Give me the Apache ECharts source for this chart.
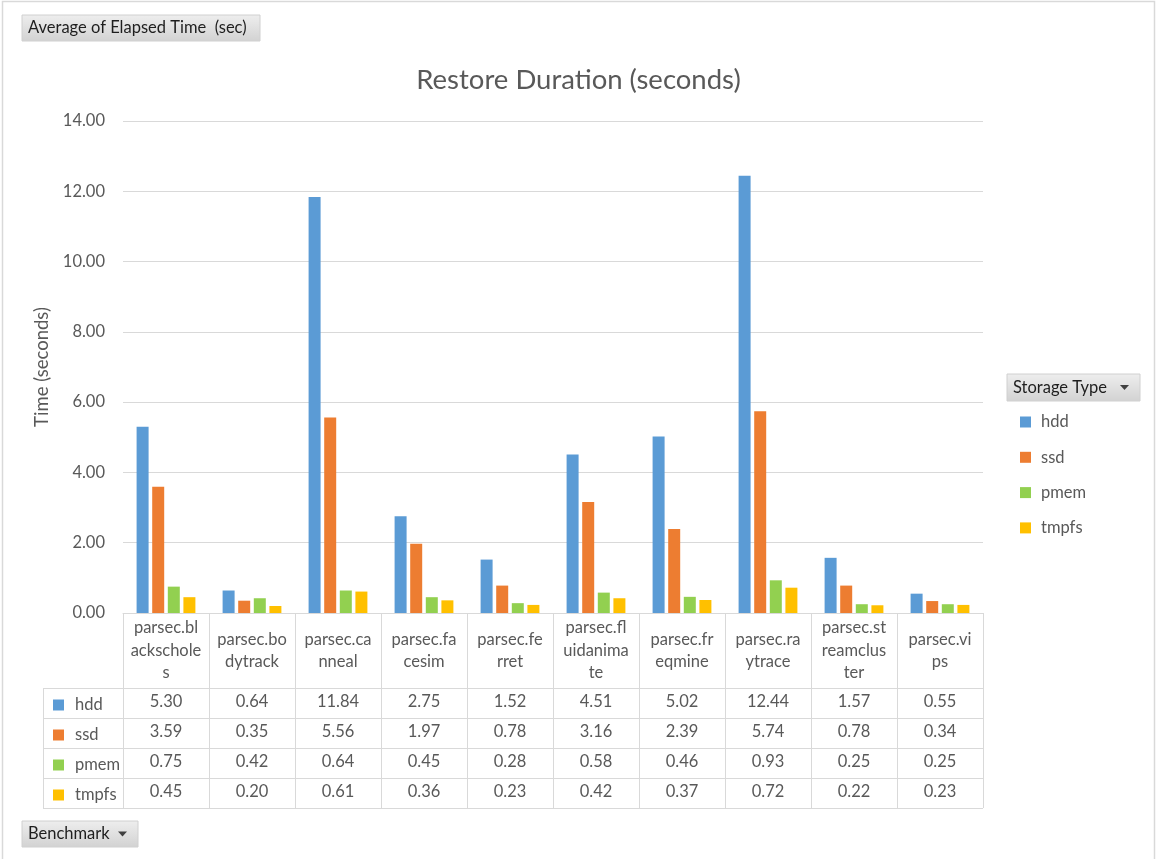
<!DOCTYPE html>
<html>
<head>
<meta charset="utf-8">
<title>Restore Duration (seconds)</title>
<script src="https://cdn.jsdelivr.net/npm/echarts@6/dist/echarts.min.js"></script>
<style>
  html, body { margin: 0; padding: 0; background: #ffffff; }
  #chart { width: 1157px; height: 859px; }
</style>
</head>
<body>
<div id="chart"></div>
<script>
// Benchmarks on the category axis, and their wrapped header text in the data table
const benchmarks = [
  'parsec.blackscholes', 'parsec.bodytrack', 'parsec.canneal', 'parsec.facesim',
  'parsec.ferret', 'parsec.fluidanimate', 'parsec.freqmine', 'parsec.raytrace',
  'parsec.streamcluster', 'parsec.vips'
];
const benchmarkHeaders = [
  'parsec.bl\nackschole\ns', 'parsec.bo\ndytrack', 'parsec.ca\nnneal', 'parsec.fa\ncesim',
  'parsec.fe\nrret', 'parsec.fl\nuidanima\nte', 'parsec.fr\neqmine', 'parsec.ra\nytrace',
  'parsec.st\nreamclus\nter', 'parsec.vi\nps'
];

// Average elapsed restore time (seconds) per storage type
const storageTypes = ['hdd', 'ssd', 'pmem', 'tmpfs'];
const hdd   = [5.30, 0.64, 11.84, 2.75, 1.52, 4.51, 5.02, 12.44, 1.57, 0.55];
const ssd   = [3.59, 0.35, 5.56, 1.97, 0.78, 3.16, 2.39, 5.74, 0.78, 0.34];
const pmem  = [0.75, 0.42, 0.64, 0.45, 0.28, 0.58, 0.46, 0.93, 0.25, 0.25];
const tmpfs = [0.45, 0.20, 0.61, 0.36, 0.23, 0.42, 0.37, 0.72, 0.22, 0.23];
const seriesValues = [hdd, ssd, pmem, tmpfs];
const seriesColors = ['#5B9BD5', '#ED7D31', '#92D050', '#FFC000'];

// Value axis range
const yMin = 0, yMax = 14, yStep = 2;

// Layout
const FONT = 'Lato, "Open Sans", sans-serif';
const TEXT = '#595959';
const LINE = '#d9d9d9';
const GRID = { left: 123, right: 174, top: 121, bottom: 246 };
const PLOT_RIGHT = 1157 - GRID.right;
const AXIS_Y = 859 - GRID.bottom;          // y of the category axis line
const HEADER_H = 75;                       // data table header row
const ROW_H = 30;                          // data table value rows
const TABLE_LEFT = 43;

const chart = echarts.init(document.getElementById('chart'), null, { renderer: 'canvas' });

// The main category axis draws the bars, the header labels and the table's column rules;
// one extra axis per storage type prints that row of the data table.
const xAxes = [{
  type: 'category',
  data: benchmarks,
  position: 'bottom',
  axisLine: { onZero: false, lineStyle: { color: LINE, width: 1 } },
  axisTick: { show: true, interval: 0, length: HEADER_H + ROW_H * storageTypes.length,
              lineStyle: { color: LINE, width: 1 } },
  axisLabel: {
    interval: 0,
    margin: HEADER_H / 2,
    verticalAlign: 'middle',
    align: 'center',
    lineHeight: 22.5,
    fontFamily: FONT, fontSize: 16.5, color: TEXT,
    formatter: (v, i) => benchmarkHeaders[i]
  }
}];
storageTypes.forEach((name, r) => {
  xAxes.push({
    type: 'category',
    data: benchmarks,
    position: 'bottom',
    offset: HEADER_H + ROW_H * r + ROW_H / 2 - 1,
    axisLine: { show: false, onZero: false },
    axisTick: { show: false },
    splitLine: { show: false },
    axisLabel: {
      interval: 0,
      margin: 0,
      verticalAlign: 'middle',
      align: 'center',
      fontFamily: FONT, fontSize: 16.5, color: TEXT,
      formatter: (v, i) => seriesValues[r][i].toFixed(2)
    }
  });
});

// Table borders that are not part of an axis
const tableRules = [];
for (let r = 0; r <= storageTypes.length; r++) {
  const y = AXIS_Y + HEADER_H + ROW_H * r + 0.5;
  tableRules.push({
    type: 'line', silent: true,
    shape: { x1: TABLE_LEFT, y1: y, x2: PLOT_RIGHT, y2: y },
    style: { stroke: LINE, lineWidth: 1 }
  });
}
tableRules.push({
  type: 'line', silent: true,
  shape: { x1: TABLE_LEFT + 0.5, y1: AXIS_Y + HEADER_H, x2: TABLE_LEFT + 0.5,
           y2: AXIS_Y + HEADER_H + ROW_H * storageTypes.length },
  style: { stroke: LINE, lineWidth: 1 }
});

// Pivot field buttons
const buttonFill = {
  type: 'linear', x: 0, y: 0, x2: 0, y2: 1,
  colorStops: [{ offset: 0, color: '#eeeeee' }, { offset: 1, color: '#d2d2d2' }]
};
function fieldButton(x, y, w, h, label, withArrow) {
  const children = [
    { type: 'rect', shape: { x: 0, y: 0, width: w, height: h },
      style: { fill: buttonFill, stroke: '#d0d0d0', lineWidth: 1 } },
    { type: 'text', x: 6, y: h / 2,
      style: { text: label, fontFamily: FONT, fontSize: 16.5, fill: '#1e1e1e',
               textVerticalAlign: 'middle', verticalAlign: 'middle' } }
  ];
  if (withArrow) {
    children.push({
      type: 'polygon',
      shape: { points: [[w - 20, h / 2 - 2.5], [w - 11, h / 2 - 2.5], [w - 15.5, h / 2 + 2.5]] },
      style: { fill: '#404040' }
    });
  }
  return { type: 'group', x: x, y: y, silent: true, children: children };
}

const option = {
  backgroundColor: '#ffffff',
  animation: false,
  color: seriesColors,
  title: {
    text: 'Restore Duration (seconds)',
    left: 'center',
    top: 61,
    textStyle: { fontFamily: FONT, fontSize: 27.5, fontWeight: 'normal', color: TEXT }
  },
  legend: [{
    data: storageTypes,
    orient: 'vertical',
    left: 1015,
    top: 407,
    icon: 'rect',
    itemWidth: 11, itemHeight: 11,
    itemGap: 15.3,
    textStyle: { fontFamily: FONT, fontSize: 16.5, color: TEXT, lineHeight: 20, padding: [0, 0, 0, 5] }
  }, {
    data: storageTypes,
    orient: 'vertical',
    left: 48,
    top: AXIS_Y + HEADER_H + 2,
    icon: 'rect',
    itemWidth: 11, itemHeight: 11,
    itemGap: 10,
    textStyle: { fontFamily: FONT, fontSize: 16.5, color: TEXT, lineHeight: 20, padding: [0, 0, 0, 6] }
  }],
  grid: { left: GRID.left, right: GRID.right, top: GRID.top, bottom: GRID.bottom, containLabel: false },
  xAxis: xAxes,
  yAxis: {
    type: 'value',
    min: yMin, max: yMax, interval: yStep,
    name: 'Time (seconds)',
    nameLocation: 'middle',
    nameRotate: 90,
    nameGap: 69,
    nameTextStyle: { fontFamily: FONT, fontSize: 18.5, color: TEXT },
    axisLine: { show: false },
    axisTick: { show: false },
    axisLabel: { margin: 18, fontFamily: FONT, fontSize: 16.5, color: TEXT,
                 formatter: v => v.toFixed(2) },
    splitLine: { lineStyle: { color: LINE, width: 1 } }
  },
  series: storageTypes.map((name, i) => ({
    name: name,
    type: 'bar',
    xAxisIndex: 0,
    data: seriesValues[i],
    barWidth: 12,
    barGap: '30%',
    itemStyle: { color: seriesColors[i] }
  })),
  graphic: [
    { type: 'rect', silent: true, z: 100,
      shape: { x: 2.5, y: 1.5, width: 1152, height: 880 },
      style: { fill: 'none', stroke: LINE, lineWidth: 1.5 } },
    ...tableRules,
    fieldButton(22, 15, 238, 26, 'Average of Elapsed Time  (sec)', false),
    fieldButton(1007, 374, 133, 27, 'Storage Type', true),
    fieldButton(22, 821, 116, 26, 'Benchmark', true)
  ]
};

chart.setOption(option);
</script>
</body>
</html>
